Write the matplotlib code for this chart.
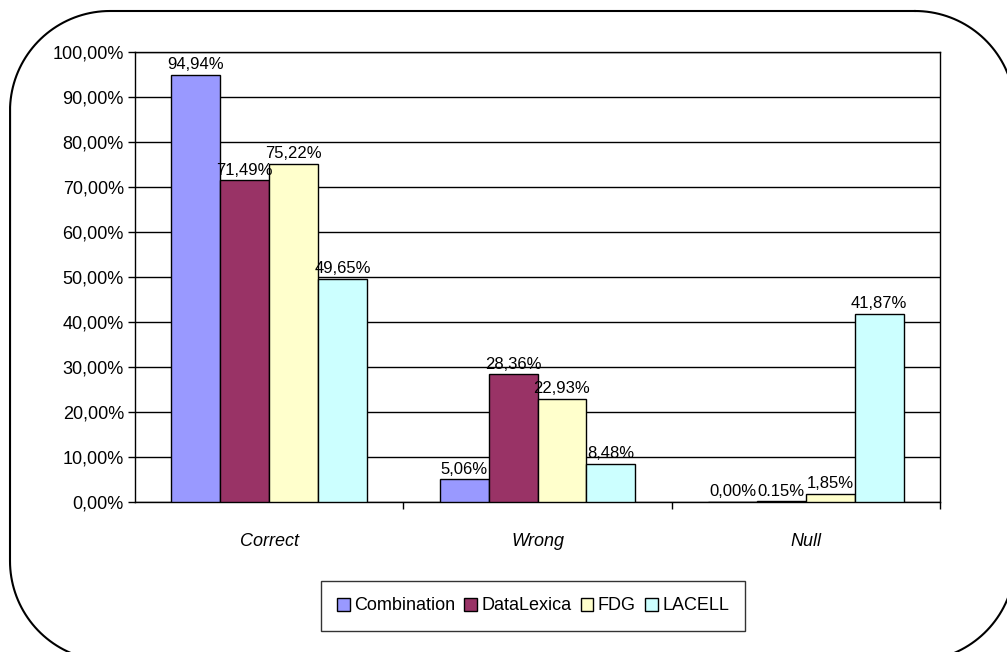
import numpy as np
import matplotlib.pyplot as plt

plt.rcParams['font.family'] = ['Liberation Sans', 'DejaVu Sans']

categories = ['Correct', 'Wrong', 'Null']
series = ['Combination', 'DataLexica', 'FDG', 'LACELL']
values = [
    [94.94, 5.06, 0.00],
    [71.49, 28.36, 0.15],
    [75.22, 22.93, 1.85],
    [49.65, 8.48, 41.87],
]
labels = [
    ['94,94%', '5,06%', '0,00%'],
    ['71,49%', '28,36%', '0.15%'],
    ['75,22%', '22,93%', '1,85%'],
    ['49,65%', '8,48%', '41,87%'],
]
colors = ['#9999FF', '#993366', '#FFFFCC', '#CCFFFF']
yticks = np.arange(0, 101, 10)
ytick_labels = ['%d,00%%' % v for v in yticks]

W, H = 1007, 652
fig = plt.figure(figsize=(W / 100, H / 100), dpi=100)

# rounded frame drawn in pixel coordinates (y down)
bg = fig.add_axes([0, 0, 1, 1], zorder=0)
bg.set_xlim(0, W)
bg.set_ylim(H, 0)
bg.axis('off')
x0, y0, x1, y1, r = 10, 11, 1015, 661, 100
pts = []
for cx, cy, a0 in [(x1 - r, y0 + r, -90), (x1 - r, y1 - r, 0),
                   (x0 + r, y1 - r, 90), (x0 + r, y0 + r, 180)]:
    t = np.radians(np.linspace(a0, a0 + 90, 40))
    pts += list(zip(cx + r * np.cos(t), cy + r * np.sin(t)))
pts.append(pts[0])
px, py = zip(*pts)
bg.plot(px, py, color='black', linewidth=1.5)

ax = fig.add_axes([135 / W, (H - 502) / H, 805 / W, 450 / H], zorder=1)
ax.patch.set_alpha(0)

x = np.arange(len(categories))
bw = 0.182
for i, s in enumerate(series):
    pos = x + (i - 1.5) * bw
    ax.bar(pos, values[i], bw, color=colors[i], edgecolor='black',
           linewidth=1, label=s, zorder=3)
    for p, v, t in zip(pos, values[i], labels[i]):
        ax.text(p, v + 0.6, t, ha='center', va='bottom', fontsize=12, zorder=4)

ax.set_xlim(-0.5, 2.5)
ax.set_ylim(0, 100)
ax.set_yticks(yticks)
ax.set_yticklabels(ytick_labels, fontsize=13)
ax.yaxis.grid(True, color='black', linewidth=1)
ax.set_axisbelow(True)
ax.tick_params(axis='y', direction='out', length=5, width=1, pad=3)

ax.set_xticks([0.5, 1.5, 2.5])
ax.set_xticklabels([])
ax.set_xticks(x, minor=True)
ax.set_xticklabels(categories, minor=True, fontsize=13, style='italic')
ax.tick_params(axis='x', which='major', direction='out', length=5, width=1)
ax.tick_params(axis='x', which='minor', length=0, pad=22)
for sp in ax.spines.values():
    sp.set_linewidth(1)
    sp.set_color('black')

leg = ax.legend(loc='center', bbox_to_anchor=(533 / W, (H - 606) / H),
                bbox_transform=fig.transFigure, ncol=4, fontsize=13,
                frameon=True, fancybox=False, handlelength=0.7,
                handleheight=0.7, handletextpad=0.25, columnspacing=0.5,
                borderpad=0.9)
leg.get_frame().set_edgecolor('black')
leg.get_frame().set_linewidth(1)

fig.savefig('out.png', dpi=100)
